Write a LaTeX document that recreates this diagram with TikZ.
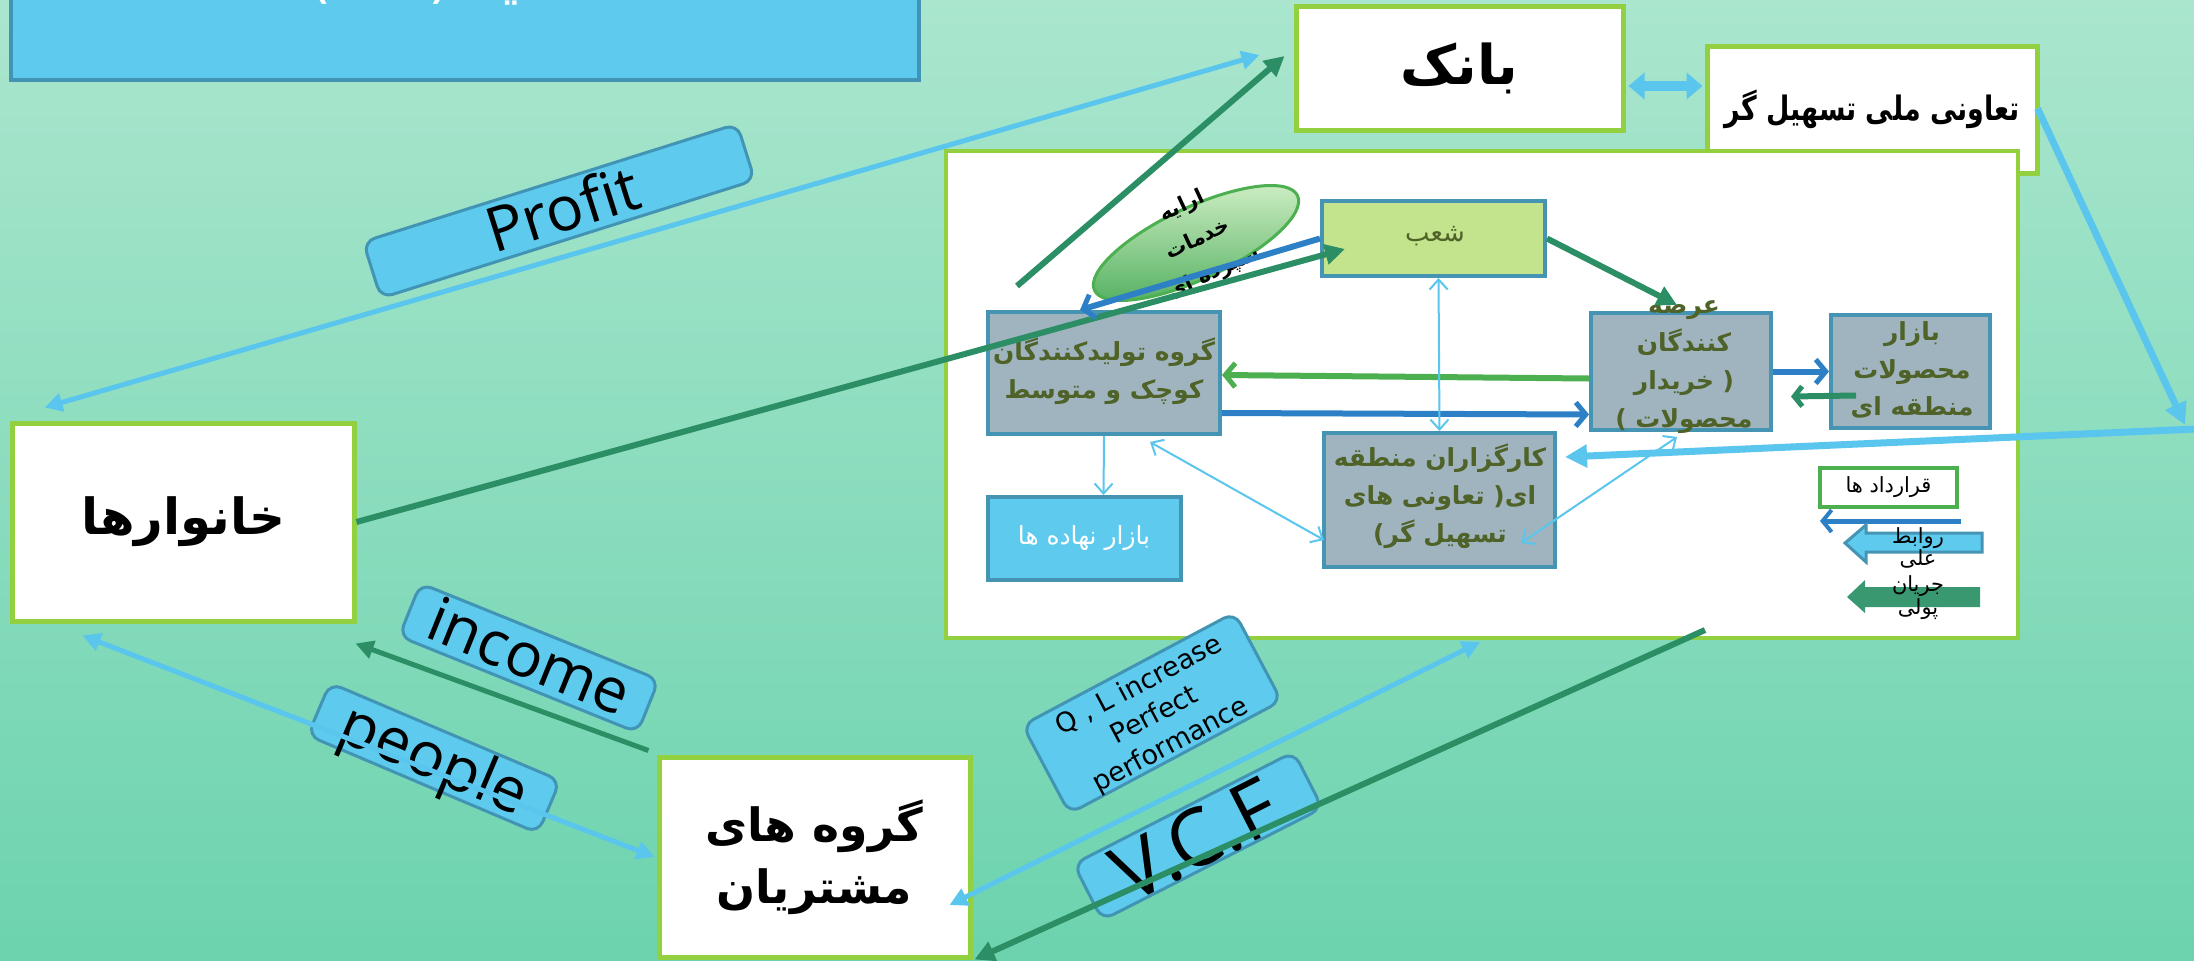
\documentclass[tikz,border=0pt]{standalone}
\usepackage{fontspec}
\setmainfont{Open Sans}
\newfontfamily\fa[Script=Arabic]{DejaVu Sans}
\newfontfamily\dv{DejaVu Sans}
\TeXXeTstate=1
\usetikzlibrary{arrows.meta,calc,shapes.geometric}
\newcommand{\rl}[1]{\beginR #1\endR}
\newcommand{\fsz}[2]{\fontsize{#1}{#2}\selectfont}
\definecolor{bgtop}{RGB}{170,230,206}
\definecolor{bgbot}{RGB}{108,211,174}
\definecolor{lime}{RGB}{146,208,64}
\definecolor{lblue}{RGB}{94,203,238}
\definecolor{lline}{RGB}{90,198,238}
\definecolor{lblborder}{RGB}{66,148,180}
\definecolor{dgreen}{RGB}{44,142,100}
\definecolor{mblue}{RGB}{46,128,198}
\definecolor{mgreen}{RGB}{76,176,80}
\definecolor{boxgray}{RGB}{160,180,192}
\definecolor{boxborder}{RGB}{70,148,180}
\definecolor{shogreen}{RGB}{195,228,140}
\definecolor{olive}{RGB}{79,98,40}
\definecolor{ellA}{RGB}{210,240,200}
\definecolor{ellB}{RGB}{86,178,98}
\definecolor{legg}{RGB}{58,152,112}
\begin{document}
\begin{tikzpicture}[x=1bp,y=-1bp,
  whitebox/.style={draw=lime,line width=5bp,fill=white,inner sep=0pt},
  graybox/.style={draw=boxborder,line width=4bp,fill=boxgray,inner sep=0pt},
  boxtext/.style={text=olive,font=\fa\bfseries\fsz{25}{38},align=center,inner sep=0pt},
  lbl/.style={draw=lblborder,line width=3bp,fill=lblue,rounded corners=12bp,inner sep=0pt},
  thickg/.style={draw=dgreen,line width=6bp,arrows={-Triangle[length=20bp,width=20bp]}},
  thickb/.style={draw=mblue,line width=6bp,arrows={-Straight Barb[length=10bp,width=24bp,line width=5bp]}},
  thickm/.style={draw=mgreen,line width=6bp,arrows={-Straight Barb[length=10bp,width=24bp,line width=5bp]}},
  lbline/.style={draw=lline,line width=5bp},
  thinl/.style={draw=lline,line width=2bp},
  dblhead/.style={arrows={Triangle[length=18bp,width=18bp]-Triangle[length=18bp,width=18bp]}},
  dblv/.style={arrows={Straight Barb[length=10bp,width=18bp,line width=2bp]-Straight Barb[length=10bp,width=18bp,line width=2bp]}},
  endv/.style={arrows={-Straight Barb[length=10bp,width=18bp,line width=2bp]}}
]
\useasboundingbox (0,0) rectangle (2194,960);
\fill[top color=bgtop,bottom color=bgbot] (0,0) rectangle (2194,960);

% title box (cut off at top)
\node[draw=lblborder,line width=4bp,fill=lblue,minimum width=908bp,minimum height=110bp,inner sep=0pt] (title) at (465,25) {};
\node[anchor=base,text=white,font=\fa\fsz{60}{70},inner sep=0pt] (titletext) at (465,-4) {\rl{اسلاید (۲۲۲)}};

% outer boxes
\node[whitebox,minimum width=327bp,minimum height=124bp,font=\fa\bfseries\fsz{55}{60}] (bank) at (1459.5,68) {\rl{بانک}};
\node[whitebox,minimum width=330bp,minimum height=127bp,font=\fa\bfseries\fsz{27}{34}] (taav) at (1872,109.5) {\scalebox{1}[1.25]{\rl{تعاونی ملی تسهیل گر}}};
\node[draw=lime,line width=4bp,fill=white,minimum width=1072bp,minimum height=487bp,inner sep=0pt] (panel) at (1482,394.5) {};
\node[whitebox,minimum width=341bp,minimum height=198bp,font=\fa\bfseries\fsz{50}{60}] (hh) at (183.5,522) {\rl{خانوارها}};
\node[whitebox,minimum width=311bp,minimum height=200bp,font=\fa\bfseries\fsz{46}{62},align=center] (cust) at (814.5,857) {\rl{گروه های}\\\rl{مشتریان}};

% ellipse
\node[ellipse,draw=mgreen,line width=3bp,top color=ellA,bottom color=ellB,rotate=25,minimum width=224bp,minimum height=72bp,inner sep=0pt] (ell) at (1196,243) {};
\node[rotate=25,align=center,font=\fa\bfseries\fsz{21}{37},inner sep=0pt] (elltext) at (1198,240) {\rl{ارایه}\\\rl{خدمات}\\\rl{سپرده ای}};

% inner boxes
\node[graybox,fill=shogreen,minimum width=223bp,minimum height=75bp] (sho) at (1433.5,238.5) {};
\node[text=olive,font=\fa\fsz{26}{30},inner sep=0pt] (shot) at (1435,236) {\rl{شعب}};
\node[graybox,minimum width=232bp,minimum height=122bp] (prod) at (1104,373) {};
\node[boxtext] (prodt) at (1104,371) {\rl{گروه تولیدکنندگان}\\\rl{کوچک و متوسط}};
\node[graybox,minimum width=180bp,minimum height=117bp] (ars) at (1681,371.5) {};
\node[boxtext] (arst) at (1684,367) {\rl{عرضه}\\\rl{کنندگان}\\\rl{( خریدار}\\\rl{محصولات )}};
\node[graybox,minimum width=159bp,minimum height=113bp] (baz) at (1910.5,371.5) {};
\node[boxtext] (bazt) at (1912,370) {\rl{بازار}\\\rl{محصولات}\\\rl{منطقه ای}};
\node[graybox,minimum width=231bp,minimum height=134bp] (kar) at (1439.5,500) {};
\node[boxtext] (kart) at (1440,496) {\rl{کارگزاران منطقه}\\\rl{ای( تعاونی های}\\\rl{تسهیل گر)}};
\node[graybox,fill=lblue,minimum width=193bp,minimum height=83bp] (naha) at (1084.5,538.5) {};
\node[text=white,font=\fa\fsz{25}{30},inner sep=0pt] (nahat) at (1084,538) {\rl{بازار نهاده ها}};

% legend
\node[draw=mgreen,line width=4bp,fill=white,minimum width=137bp,minimum height=39bp,inner sep=0pt,font=\fa\fsz{21}{24}] (con) at (1888.5,487.5) {\rl{قرارداد ها}};
\draw[mblue,line width=5bp,arrows={-Straight Barb[length=9bp,width=22bp,line width=4bp]}] ($(con.south east)+(2,12)$) -- ($(con.south west)+(2,12)$);
\filldraw[fill=lblue,draw=boxborder,line width=3bp,line join=miter]
  (1845,543) -- (1866,525) -- (1866,533) -- (1982,533) -- (1982,552) -- (1866,552) -- (1866,562) -- cycle;
\fill[legg] (1847,597) -- (1865,580) -- (1865,587) -- (1980,587) -- (1980,607) -- (1865,607) -- (1865,613) -- cycle;
\node[align=center,font=\fa\fsz{21}{21},inner sep=0pt] (leg1) at (1918,548) {\rl{روابط}\\\rl{علی}};
\node[align=center,font=\fa\fsz{21}{23},inner sep=0pt] (leg2) at (1918,598) {\rl{جریان}\\\rl{پولی}};

% labels
\node[lbl,rotate=17.5,minimum width=392bp,minimum height=59bp] (profit) at (559,211) {};
\node[rotate=17.5,font=\fsz{62}{70},inner sep=0pt] (profitt) at (562,208) {Profit};
\node[lbl,rotate=-22,minimum width=257bp,minimum height=57bp] (income) at (529,658) {};
\node[rotate=-22,font=\fsz{62}{70},inner sep=0pt] (incomet) at (530,656) {income};
\node[lbl,rotate=-23,minimum width=250bp,minimum height=57bp] (people) at (434,758) {};
\node[rotate=-23,font=\fsz{62}{70},inner sep=0pt] (peoplet) at (433,763) {people};
\node[lbl,rotate=28,minimum width=240bp,minimum height=100bp] (ql) at (1152,713) {};
\node[rotate=28,align=center,font=\dv\fsz{27}{34},inner sep=0pt] (qlt) at (1155,716) {Q , L increase\\Perfect\\performance};
\node[lbl,rotate=27,minimum width=247bp,minimum height=63bp] (vcf) at (1198,836) {};
\node[rotate=27,font=\fsz{80}{82},inner sep=0pt] (vcft) at (1195,840) {V.C.F};

% connectors
\draw[lbline,dblhead] ($(hh.north west)+(34,-13)$) -- ($(bank.west)+(-34,-13)$);
\coordinate (g2) at (1017,286);
\draw[thickg] (g2) -- ($(bank.west)+(-9,-12)$);
\draw[thickg] (hh.east) -- ($(sho.south west)+(25,-29)$);
\draw[thickb] (sho.west) -- ($(prod.north)+(-24,0)$);
\draw[thickg] (sho.east) -- ($(ars.north)+(-4,-6)$);
\draw[thickm] ($(ars.west)+(0,7)$) -- ($(prod.east)+(0,2)$);
\draw[thickb] ($(prod.east)+(0,40)$) -- ($(ars.west)+(0,43)$);
\draw[thickb] (ars.east) -- (baz.west);
\draw[draw=dgreen,line width=6bp,arrows={-Straight Barb[length=8bp,width=20bp,line width=5bp]}] ($(baz.west)+(27,24)$) -- ($(ars.east)+(18,25)$);
\draw[thinl,dblv] ($(sho.south)+(5,0)$) -- (kar.north);
\draw[thinl,endv] (prod.south) -- ($(naha.north)+(19,0)$);
\draw[thinl,dblv] ($(prod.south)+(46,6)$) -- ($(kar.west)+(2,40)$);
\draw[thinl,dblv] ($(ars.south)+(-4,5)$) -- ($(kar.east)+(-36,43)$);
\coordinate (rtip) at (2185,425);
\coordinate (redge) at (2196,429);
\draw[draw=lline,line width=7bp,arrows={-Triangle[length=22bp,width=22bp]}] ($(taav.east)+(-2,-1)$) -- (rtip);
\draw[draw=lline,line width=7bp,arrows={-Triangle[length=22bp,width=22bp]}] (redge) -- ($(kar.east)+(8,-43)$);
\draw[draw=lline,line width=10bp,arrows={Triangle[length=16bp,width=26bp]-Triangle[length=16bp,width=26bp]}] ($(bank.east)+(3,18)$) -- ($(taav.west)+(-2,-23.5)$);
\draw[draw=dgreen,line width=5bp,arrows={-Triangle[length=18bp,width=18bp]}] ($(cust.north west)+(-8,-4)$) -- ($(hh.south east)+(-1,20)$);
\draw[lbline,dblhead] ($(hh.south west)+(72,12)$) -- ($(cust.west)+(-2,0)$);
\draw[lbline,dblhead] ($(panel.south)+(-2,2)$) -- ($(cust.east)+(-23,48)$);
\draw[draw=dgreen,line width=6bp,arrows={-Triangle[length=20bp,width=20bp]}] ($(panel.south)+(223,-10)$) -- ($(cust.south east)+(2,0)$);
\end{tikzpicture}
\end{document}
